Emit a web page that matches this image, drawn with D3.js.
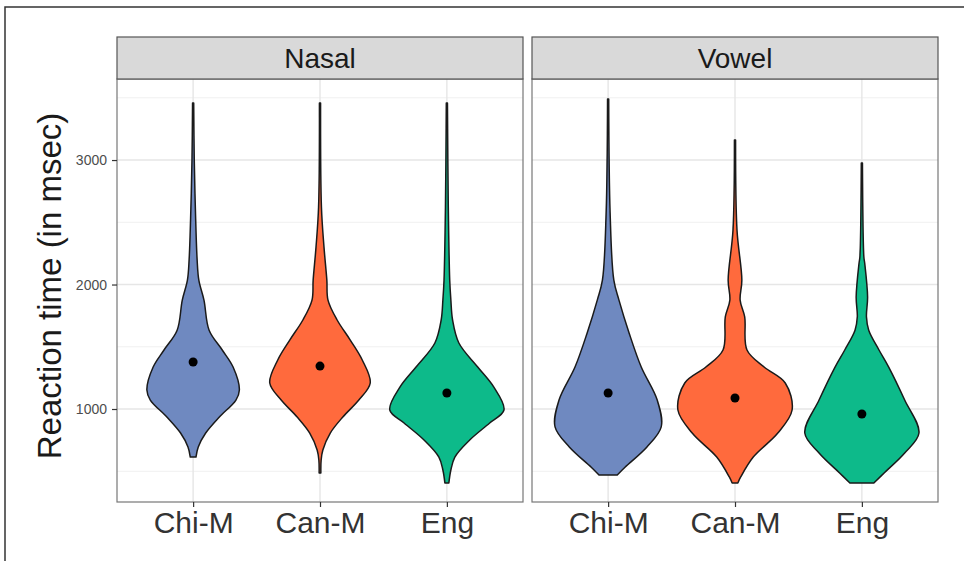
<!DOCTYPE html>
<html>
<head>
<meta charset="utf-8">
<script src="https://cdn.jsdelivr.net/npm/d3@7"></script>
<style>
  body { margin: 0; background: #fff; }
  svg { display: block; font-family: "Liberation Sans", Arial, sans-serif; }
</style>
</head>
<body>
<div id="chart"></div>
<script>
/** Data */
const facets = ["Nasal", "Vowel"];
const groups = ["Chi-M", "Can-M", "Eng"];
const yTicks = [1000, 2000, 3000];
const yMinor = [500, 1500, 2500, 3500];

// [reaction time (msec), relative density]
const nasalChiM = [
  [3458, 0.01], [3000, 0.02], [2600, 0.04], [2200, 0.07], [2035, 0.1],
  [1875, 0.19], [1633, 0.28], [1474, 0.51], [1337, 0.7], [1153, 0.81],
  [1072, 0.75], [936, 0.46], [807, 0.22], [695, 0.09], [614, 0.05],
];
const nasalCanM = [
  [3458, 0.01], [2622, 0.025], [2300, 0.07], [2035, 0.12], [1875, 0.14],
  [1715, 0.3], [1554, 0.53], [1394, 0.74], [1209, 0.88], [1072, 0.68],
  [936, 0.4], [807, 0.18], [671, 0.05], [590, 0.02], [486, 0.015],
];
const nasalEng = [
  [3458, 0.01], [2622, 0.025], [2035, 0.05], [1875, 0.07], [1715, 0.1],
  [1530, 0.21], [1337, 0.54], [1177, 0.82], [992, 1.0], [888, 0.75],
  [751, 0.4], [614, 0.14], [510, 0.07], [406, 0.035],
];
const vowelChiM = [
  [3490, 0.01], [2574, 0.035], [2035, 0.1], [1875, 0.19], [1607, 0.37],
  [1337, 0.58], [1072, 0.86], [856, 0.93], [695, 0.68], [534, 0.3],
  [470, 0.16],
];
const vowelCanM = [
  [3161, 0.01], [2438, 0.035], [2035, 0.12], [1875, 0.09], [1740, 0.17],
  [1474, 0.21], [1337, 0.51], [1209, 0.88], [992, 1.0], [807, 0.75],
  [614, 0.32], [454, 0.1], [406, 0.05],
];
const vowelEng = [
  [2976, 0.01], [2221, 0.035], [2170, 0.05], [1900, 0.1], [1740, 0.08],
  [1633, 0.12], [1474, 0.3], [1337, 0.47], [1072, 0.75], [807, 1.0],
  [647, 0.75], [486, 0.39], [406, 0.21],
];
const nasalMeans = [1378, 1345, 1129];
const vowelMeans = [1129, 1088, 960];

const violins = [
  [nasalChiM, nasalCanM, nasalEng],
  [vowelChiM, vowelCanM, vowelEng],
];
const means = [nasalMeans, vowelMeans];

/** Graph configs */
const width = 964;
const height = 561;
const panelTop = 79;
const panelBottom = 502;
const stripTop = 37;
const panels = [
  { left: 117, right: 523 },
  { left: 532, right: 938 },
];

const color = d3
  .scaleOrdinal()
  .domain(groups)
  .range(["#6F89C0", "#FF6A3D", "#0DBA8A"]);

const y = d3.scaleLinear().domain([253, 3651]).range([panelBottom, panelTop]);

const svg = d3
  .select("#chart")
  .append("svg")
  .attr("width", width)
  .attr("height", height);

// outer frame (top and left only)
svg
  .append("path")
  .attr("d", `M5,${height}V7H${width}`)
  .attr("fill", "none")
  .attr("stroke", "#333")
  .attr("stroke-width", 1.5);

facets.forEach((facet, fi) => {
  const p = panels[fi];
  const x = d3.scaleLinear().domain([0.4, 3.6]).range([p.left, p.right]);
  const g = svg.append("g");

  // grid
  g.selectAll(".minor")
    .data(yMinor)
    .join("line")
    .attr("x1", p.left)
    .attr("x2", p.right)
    .attr("y1", (d) => y(d))
    .attr("y2", (d) => y(d))
    .attr("stroke", "#F0F0F0")
    .attr("stroke-width", 1);
  g.selectAll(".major")
    .data(yTicks)
    .join("line")
    .attr("x1", p.left)
    .attr("x2", p.right)
    .attr("y1", (d) => y(d))
    .attr("y2", (d) => y(d))
    .attr("stroke", "#E6E6E6")
    .attr("stroke-width", 1.4);
  g.selectAll(".vgrid")
    .data(groups)
    .join("line")
    .attr("x1", (d, i) => x(i + 1))
    .attr("x2", (d, i) => x(i + 1))
    .attr("y1", panelTop)
    .attr("y2", panelBottom)
    .attr("stroke", "#E6E6E6")
    .attr("stroke-width", 1.4);

  // violins
  violins[fi].forEach((dens, i) => {
    const half = (d) => x(1 + 0.45 * d[1]) - x(1);
    const area = d3
      .area()
      .y((d) => y(d[0]))
      .x0((d) => x(i + 1) - half(d))
      .x1((d) => x(i + 1) + half(d))
      .curve(d3.curveCatmullRom);
    g.append("path")
      .attr("d", area(dens))
      .attr("fill", color(groups[i]))
      .attr("stroke", "#1a1a1a")
      .attr("stroke-width", 1.5)
      .attr("stroke-linejoin", "round");
  });

  // mean points
  g.selectAll(".mean")
    .data(means[fi])
    .join("circle")
    .attr("cx", (d, i) => x(i + 1))
    .attr("cy", (d) => y(d))
    .attr("r", 4.5)
    .attr("fill", "#000");

  // panel border
  g.append("rect")
    .attr("x", p.left)
    .attr("y", panelTop)
    .attr("width", p.right - p.left)
    .attr("height", panelBottom - panelTop)
    .attr("fill", "none")
    .attr("stroke", "#777")
    .attr("stroke-width", 1.2);

  // strip
  g.append("rect")
    .attr("x", p.left)
    .attr("y", stripTop)
    .attr("width", p.right - p.left)
    .attr("height", panelTop - stripTop)
    .attr("fill", "#D9D9D9")
    .attr("stroke", "#555")
    .attr("stroke-width", 1.2);
  g.append("text")
    .attr("x", (p.left + p.right) / 2)
    .attr("y", stripTop + (panelTop - stripTop) / 2 + 10)
    .attr("text-anchor", "middle")
    .attr("font-size", 28)
    .attr("fill", "#1a1a1a")
    .text(facet);

  // x axis
  const xAxis = d3
    .axisBottom(d3.scalePoint().domain(groups).range([x(1), x(3)]))
    .tickSize(5)
    .tickPadding(5);
  const ax = g
    .append("g")
    .attr("transform", `translate(0,${panelBottom})`)
    .call(xAxis);
  ax.select(".domain").remove();
  ax.selectAll(".tick line").attr("stroke", "#333").attr("stroke-width", 1.2);
  ax.selectAll(".tick text")
    .attr("font-size", 30)
    .attr("fill", "#333")
    .attr("font-family", "Liberation Sans, Arial, sans-serif");
});

// y axis
const yAxis = d3
  .axisLeft(y)
  .tickValues(yTicks)
  .tickFormat(d3.format("d"))
  .tickSize(5)
  .tickPadding(5);
const ay = svg
  .append("g")
  .attr("transform", `translate(${panels[0].left},0)`)
  .call(yAxis);
ay.select(".domain").remove();
ay.selectAll(".tick line").attr("stroke", "#333").attr("stroke-width", 1.2);
ay.selectAll(".tick text")
  .attr("font-size", 14)
  .attr("fill", "#4D4D4D")
  .attr("font-family", "Liberation Sans, Arial, sans-serif");

svg
  .append("text")
  .attr("transform", `translate(61,286) rotate(-90)`)
  .attr("text-anchor", "middle")
  .attr("font-size", 33)
  .attr("fill", "#1a1a1a")
  .text("Reaction time (in msec)");
</script>
</body>
</html>
